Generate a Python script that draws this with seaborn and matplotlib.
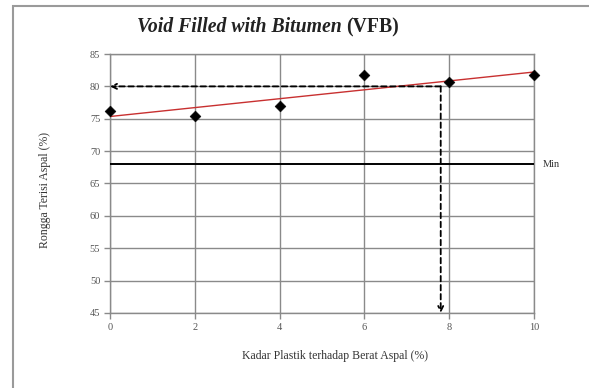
import numpy as np
import pandas as pd
import matplotlib
matplotlib.use("Agg")
import matplotlib.pyplot as plt
import seaborn as sns
from matplotlib.patches import Rectangle

# ---- data ----
kadar_plastik = [0, 2, 4, 6, 8, 10]
vfb = [76.2, 75.4, 77.0, 81.7, 80.7, 81.7]
vfb_min = 68
target_vfb = 80
kadar_opt = 7.8
x_ticks = [0, 2, 4, 6, 8, 10]
y_ticks = [45, 50, 55, 60, 65, 70, 75, 80, 85]

df = pd.DataFrame({"kadar": kadar_plastik, "vfb": vfb})

sns.set_theme(style="white")
plt.rcParams["font.family"] = ["Liberation Serif", "DejaVu Serif"]

W, H = 589, 388
fig = plt.figure(figsize=(W / 100, H / 100), dpi=100)
ax = fig.add_axes([110 / W, 1 - 313 / H, (534 - 110) / W, (313 - 54) / H])

grid_c = "#8a8a8a"
ax.set_xlim(0, 10)
ax.set_ylim(45, 85)
ax.set_xticks(x_ticks)
ax.set_yticks(y_ticks)
ax.grid(True, color=grid_c, lw=1.0)
for s in ax.spines.values():
    s.set_color(grid_c)
    s.set_linewidth(1.0)
ax.tick_params(axis="both", which="both", direction="out", length=4, width=1,
               color=grid_c, labelsize=7.5, labelcolor="#555555", pad=3)
ax.tick_params(bottom=True, left=True)

# regression line
sns.regplot(data=df, x="kadar", y="vfb", scatter=False, ci=None, ax=ax,
            color="#c83030", line_kws={"lw": 1.0, "zorder": 3})
# Min line
ax.axhline(vfb_min, color="black", lw=1.4, zorder=3)
# data points
sns.scatterplot(data=df, x="kadar", y="vfb", marker="D", color="black",
                s=30, edgecolor="black", ax=ax, zorder=5, clip_on=False)

# dashed arrows
ax.annotate("", xy=(0, target_vfb), xytext=(kadar_opt, target_vfb),
            arrowprops=dict(arrowstyle="->", color="black", lw=1.3,
                            linestyle=(0, (3, 2)), shrinkA=0, shrinkB=0,
                            mutation_scale=9), zorder=6)
ax.annotate("", xy=(kadar_opt, 45), xytext=(kadar_opt, target_vfb),
            arrowprops=dict(arrowstyle="->", color="black", lw=1.3,
                            linestyle=(0, (3, 2)), shrinkA=0, shrinkB=0,
                            mutation_scale=9), zorder=6)

ax.set_xlabel("")
ax.set_ylabel("")

ax.text(1.02, vfb_min, "Min", transform=ax.get_yaxis_transform(),
        fontsize=7.5, color="#333333", va="center", ha="left")

# labels
fig.text(335 / W, 1 - 356 / H, "Kadar Plastik terhadap Berat Aspal (%)",
         fontsize=8.5, color="#333333", ha="center", va="center")
fig.text(45 / W, 1 - 190 / H, "Rongga Terisi Aspal (%)", rotation=90,
         fontsize=8.5, color="#333333", ha="center", va="center")

# title
fig.text(342 / W, 1 - 27 / H, "Void Filled with Bitumen", fontsize=14.2,
         fontweight="bold", fontstyle="italic", color="#222222",
         ha="right", va="center")
fig.text(346 / W, 1 - 27 / H, "(VFB)", fontsize=14.2, fontweight="bold",
         color="#222222", ha="left", va="center")

# outer chart frame
fig.patches.append(Rectangle((13 / W, -0.1), 1.2, 1 - 6 / H + 0.1,
                             transform=fig.transFigure, fill=False,
                             edgecolor="#9a9a9a", lw=1.5))

fig.savefig("out.png", dpi=100)
